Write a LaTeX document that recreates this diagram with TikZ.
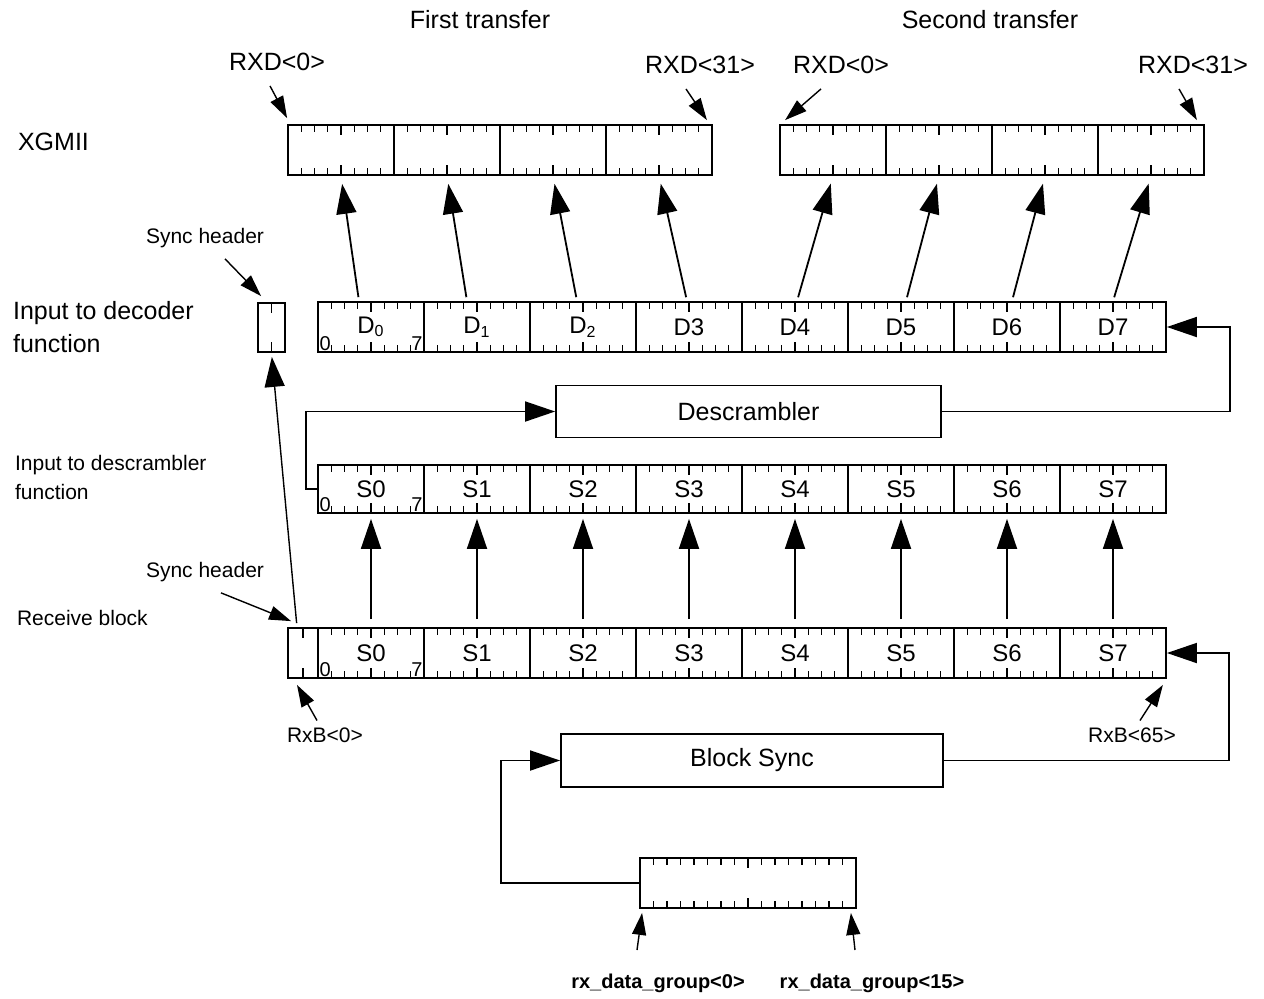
\documentclass[tikz,border=0pt]{standalone}
\usepackage{fontspec}
\setmainfont{Liberation Sans}
\usetikzlibrary{arrows.meta,calc}
\tikzset{
  tick cells/.style={
    path picture={
      \pgfmathtruncatemacro\nlast{#1-1}
      \foreach \k in {1,...,\nlast}{
        \pgfmathsetmacro\tl{ifthenelse(2*\k==#1,5,3.5)}
        \draw[line width=0.7pt] ($(path picture bounding box.north west)!\k/#1!(path picture bounding box.north east)$) -- ++(0,-\tl pt);
        \draw[line width=0.7pt] ($(path picture bounding box.south west)!\k/#1!(path picture bounding box.south east)$) -- ++(0,\tl pt);
      }
    },
  },
  reg cell/.style={
    draw, line width=0.9pt, inner sep=0pt,
    minimum height=25pt, minimum width=53pt,
    font=\fontsize{12}{14}\selectfont,
    tick cells=#1,
  },
  func box/.style={
    draw, line width=0.9pt, minimum height=26pt,
    font=\fontsize{12.5}{15}\selectfont,
  },
  big label/.style={font=\fontsize{12.5}{15}\selectfont},
  small label/.style={font=\fontsize{10.5}{14.5}\selectfont, align=left},
  bit label/.style={font=\fontsize{10}{11}\selectfont, inner sep=1pt},
  big arrow/.style={
    -{Triangle[length=15pt,width=10pt]},
    line width=0.9pt,
  },
  thin arrow/.style={
    -{Triangle[length=11pt,width=7pt]},
    line width=0.7pt,
  },
}

\begin{document}
\begin{tikzpicture}[x=0.5pt,y=-0.5pt]
  \useasboundingbox (0,0) rectangle (1264,998);

  % XGMII
  \node[big label] (first) at (480,20) {First transfer};
  \node[big label] (second) at (990,20) {Second transfer};
  \node[big label, anchor=west] (xgmii) at (11,142) {XGMII};
  \foreach \i in {0,...,3}
    \node[reg cell=8] (x\i) at ({341+106*\i},150) {};
  \foreach \i in {4,...,7}
    \node[reg cell=8] (x\i) at ({833+106*(\i-4)},150) {};
  \node[big label] (rxdA) at (277,62) {RXD<0>};
  \node[big label] (rxdB) at (700,65) {RXD<31>};
  \node[big label] (rxdC) at (841,65) {RXD<0>};
  \node[big label] (rxdD) at (1193,65) {RXD<31>};
  \draw[thin arrow] ([xshift=-3.5pt,yshift=-4pt]rxdA.south) -- ([yshift=3pt]x0.north west);
  \draw[thin arrow] ([xshift=-7pt,yshift=-4pt]rxdB.south) -- ([xshift=-3pt,yshift=2pt]x3.north east);
  \draw[thin arrow] ([xshift=-10pt,yshift=-4pt]rxdC.south) -- ([xshift=3pt,yshift=2pt]x4.north west);
  \draw[thin arrow] ([xshift=-7pt,yshift=-4pt]rxdD.south) -- ([xshift=-4pt,yshift=2pt]x7.north east);

  % decoder input
  \node[big label, anchor=west, align=left, font=\fontsize{12.5}{16.5}\selectfont] (decin) at (6,327) {Input to decoder\\function};
  \node[reg cell=2, minimum width=13.5pt, minimum height=24.5pt] (dsync) at (271.5,327.5) {};
  \node[small label] (synA) at (205,238) {Sync header};
  \draw[thin arrow] ([xshift=10pt,yshift=-2pt]synA.south) -- ([xshift=2pt,yshift=3pt]dsync.north west);
  \foreach \i/\lab in {0/D\textsubscript{0},1/D\textsubscript{1},2/D\textsubscript{2},3/D3,4/D4,5/D5,6/D6,7/D7}
    \node[reg cell=8] (d\i) at ({371+106*\i},327) {\lab};
  \node[bit label, anchor=south west] (d0lo) at (d0.south west) {0};
  \node[bit label, anchor=south east] (d0hi) at (d0.south east) {7};
  \foreach \i/\dx in {0/-6,1/-5,2/-3,3/-1,4/1,5/2.5,6/2.5,7/0}
    \draw[big arrow, shorten <=2pt, shorten >=4pt] ([xshift=\dx pt]d\i.north) -- (x\i.south);

  % descrambler
  \node[func box, minimum width=192.5pt] (desc) at (748.5,411.5) {Descrambler};
  \node[small label, anchor=west] (descin) at (8,477) {Input to descrambler\\function};
  \foreach \i in {0,...,7}
    \node[reg cell=8, minimum height=24pt] (s\i) at ({371+106*\i},489) {S\i};
  \node[bit label, anchor=south west] (s0lo) at (s0.south west) {0};
  \node[bit label, anchor=south east] (s0hi) at (s0.south east) {7};
  \draw[big arrow] (s0.west) -- ++(-11,0) |- (desc.west);
  \draw[big arrow] (desc.east) -- ++(288,0) |- (d7.east);

  % receive block
  \node[small label, anchor=west] (recv) at (10,618) {Receive block};
  \node[small label] (synB) at (205,572) {Sync header};
  \node[reg cell=2, minimum width=15pt] (rsync) at (303,653) {};
  \foreach \i in {0,...,7}
    \node[reg cell=8] (r\i) at ({371+106*\i},653) {S\i};
  \node[bit label, anchor=south west] (r0lo) at (r0.south west) {0};
  \node[bit label, anchor=south east] (r0hi) at (r0.south east) {7};
  \draw[thin arrow] ([xshift=8pt,yshift=-2pt]synB.south) -- ([xshift=2pt,yshift=3pt]rsync.north west);
  \draw[big arrow, line width=0.7pt, shorten <=2pt, shorten >=2pt] ([xshift=-3pt]rsync.north) -- (dsync.south);
  \foreach \i in {0,...,7}
    \draw[big arrow, shorten <=4pt, shorten >=2.5pt] (r\i.north) -- (s\i.south);
  \node[small label] (rxbA) at (325,735) {RxB<0>};
  \node[small label] (rxbB) at (1132,735) {RxB<65>};
  \draw[thin arrow] ([xshift=-4pt]rxbA.north) -- ([xshift=-3pt,yshift=-3pt]rsync.south);
  \draw[thin arrow] ([xshift=4pt]rxbB.north) -- ([xshift=-2pt,yshift=-3pt]r7.south east);

  % block sync
  \node[func box, minimum width=191pt, minimum height=26.5pt] (bsync) at (752,760.5) {Block Sync};
  \node[reg cell=16, minimum width=108pt] (rxreg) at (748,883) {};
  \draw[big arrow] (bsync.east) -- ++(285,0) |- (r7.east);
  \draw[big arrow] (rxreg.west) -- ++(-138,0) |- (bsync.west);
  \coordinate (gA) at (637,950);
  \coordinate (gB) at (855,950);
  \draw[thin arrow] (gA) -- ([xshift=1.5pt,yshift=-2pt]rxreg.south west);
  \draw[thin arrow] (gB) -- ([xshift=-3pt,yshift=-2pt]rxreg.south east);
  \node[font=\bfseries\fontsize{10}{12}\selectfont] (grpA) at (658,983) {rx\_data\_group<0>};
  \node[font=\bfseries\fontsize{10}{12}\selectfont] (grpB) at (872,983) {rx\_data\_group<15>};
\end{tikzpicture}
\end{document}
